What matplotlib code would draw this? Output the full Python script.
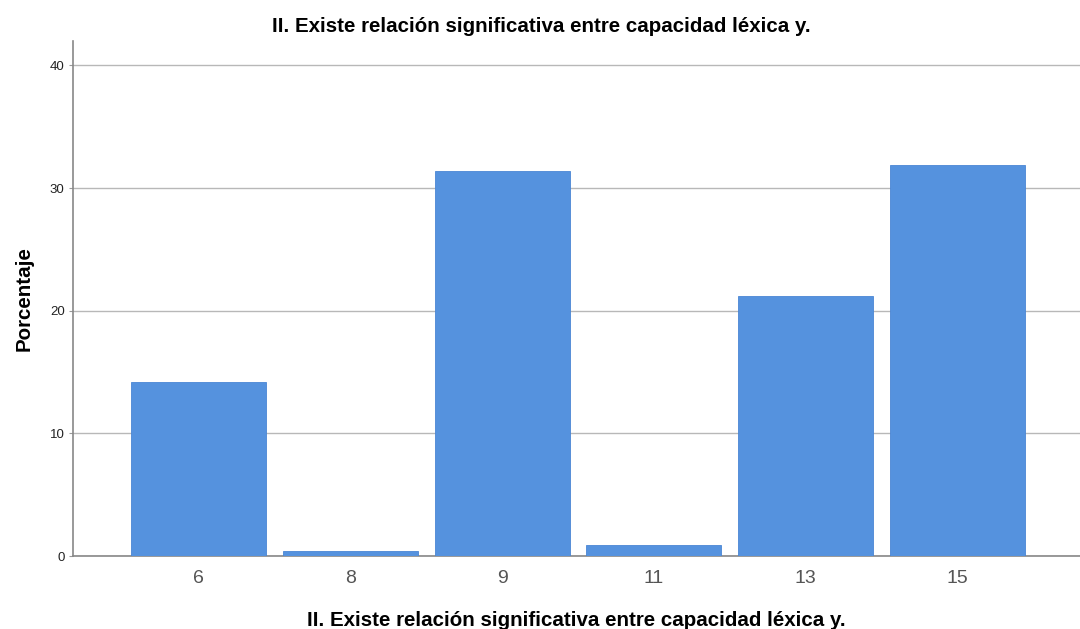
import numpy as np
from matplotlib import pyplot as plt

categorias = ["6", "8", "9", "11", "13", "15"]
porcentaje = [14.2, 0.4, 31.4, 0.9, 21.2, 31.9]
yticks = [0, 10, 20, 30, 40]
titulo = "II. Existe relación significativa entre capacidad léxica y."

plt.rcParams['font.family'] = ['Liberation Sans', 'DejaVu Sans']

fig = plt.figure(figsize=(10.8, 6.29), dpi=100)
ax = fig.add_axes([0.0676, 0.116, 0.9324, 0.819])

x = np.arange(len(categorias))
ax.bar(x, porcentaje, width=0.89, color='#5592de', edgecolor='#4a86d4', linewidth=0.6, zorder=3)

ax.set_xlim(-0.827, 5.807)
ax.set_ylim(0, 42)
ax.set_yticks(yticks)
ax.set_yticklabels([str(t) for t in yticks], fontsize=9.5, color='#222222')
ax.set_xticks(x)
ax.set_xticklabels(categorias, fontsize=14, color='#555555')
ax.tick_params(axis='x', length=0, pad=10)
ax.tick_params(axis='y', length=3, color='#999999', pad=3)

ax.grid(axis='y', color='#b8b8b8', linewidth=1.0, zorder=0)
for s in ['top', 'right']:
    ax.spines[s].set_visible(False)
for s in ['left', 'bottom']:
    ax.spines[s].set_color('#888888')
    ax.spines[s].set_linewidth(1.2)

ax.set_ylabel("Porcentaje", fontsize=14.8, fontweight='bold', labelpad=12)
ax.set_xlabel(titulo, fontsize=14.8, fontweight='bold', labelpad=17)
fig.text(0.501, 0.958, titulo, ha='center', va='center', fontsize=14.8, fontweight='bold')

fig.savefig('out.png', dpi=100)
